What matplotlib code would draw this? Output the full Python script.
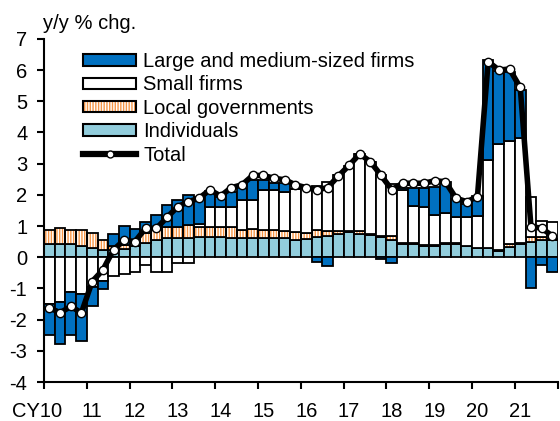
import matplotlib.pyplot as plt
from matplotlib.patches import Patch
from matplotlib.lines import Line2D
from matplotlib.legend_handler import HandlerTuple
import matplotlib.transforms as mtransforms
import numpy as np

plt.rcParams['font.family'] = ['Liberation Sans', 'DejaVu Sans']
plt.rcParams['axes.unicode_minus'] = False
plt.rcParams['hatch.linewidth'] = 1.0

# quarterly data, CY2010 Q1 .. CY2021 Q4 (y/y % chg. contributions)
year_labels = ['CY10', '11', '12', '13', '14', '15', '16', '17', '18', '19', '20', '21']

individuals = [0.42, 0.42, 0.42, 0.36, 0.29, 0.24, 0.22, 0.26, 0.35, 0.47, 0.56, 0.60,
               0.61, 0.62, 0.64, 0.64, 0.66, 0.62, 0.62, 0.62, 0.62, 0.62, 0.61, 0.56,
               0.57, 0.66, 0.68, 0.75, 0.80, 0.75, 0.72, 0.65, 0.55, 0.43, 0.43, 0.37,
               0.36, 0.43, 0.43, 0.36, 0.29, 0.29, 0.21, 0.33, 0.43, 0.50, 0.55, 0.56]
local_gov = [0.45, 0.52, 0.45, 0.52, 0.47, 0.32, 0.15, 0.14, 0.20, 0.30, 0.32, 0.38,
             0.37, 0.42, 0.34, 0.34, 0.30, 0.36, 0.26, 0.29, 0.26, 0.24, 0.24, 0.24,
             0.22, 0.20, 0.17, 0.10, 0.03, 0.10, 0.02, 0.03, 0.13, 0.03, 0.02, 0.02,
             0.02, 0.01, 0.01, 0.01, 0.01, 0.01, 0.01, 0.10, 0.01, 0.14, 0.10, 0.02]
small_firms = [-1.50, -1.42, -1.12, -1.18, -0.97, -0.75, -0.60, -0.53, -0.46, -0.25, -0.46, -0.46,
               -0.20, -0.20, 0.10, 0.64, 0.66, 0.64, 0.96, 0.93, 1.28, 1.30, 1.25, 1.40,
               1.42, 1.43, 1.57, 1.80, 2.10, 2.45, 2.30, 1.95, 1.66, 1.68, 1.20, 1.21,
               0.98, 0.97, 0.84, 0.91, 1.01, 2.83, 3.42, 3.31, 3.38, 1.30, 0.50, 0.55]
large_firms = [-0.98, -1.36, -1.38, -1.52, -0.59, -0.28, 0.38, 0.60, 0.35, 0.37, 0.48, 0.68,
               0.86, 0.96, 0.85, 0.50, 0.30, 0.48, 0.40, 0.62, 0.30, 0.21, 0.28, 0.00,
               0.00, -0.15, -0.27, 0.00, 0.00, 0.00, 0.00, -0.07, -0.18, 0.08, 0.57, 0.62,
               0.90, 1.00, 0.57, 0.41, 0.64, 3.20, 2.32, 2.19, 1.55, -0.99, -0.25, -0.46]
total = [-1.62, -1.78, -1.58, -1.78, -0.78, -0.41, 0.24, 0.55, 0.50, 0.93, 0.92, 1.28,
         1.62, 1.78, 1.89, 2.16, 1.96, 2.23, 2.32, 2.62, 2.62, 2.53, 2.48, 2.32,
         2.23, 2.16, 2.23, 2.60, 2.94, 3.31, 3.06, 2.62, 2.16, 2.37, 2.37, 2.37,
         2.45, 2.42, 1.89, 1.78, 1.94, 6.27, 6.00, 6.03, 5.44, 0.98, 0.93, 0.68]

c_large = '#0070C0'
c_ind = '#92CDDC'
c_lg = '#F79646'

fig = plt.figure(figsize=(5.6, 4.21), dpi=100)
ax = fig.add_axes([44 / 560, 1 - 382 / 421, (557.7 - 44) / 560, (382 - 38.8) / 421])

x = np.arange(len(total))
pos = np.zeros(len(x))
neg = np.zeros(len(x))

def stack(vals):
    v = np.array(vals)
    bottom = np.where(v >= 0, pos, neg)
    pos[:] = pos + np.clip(v, 0, None)
    neg[:] = neg + np.clip(v, None, 0)
    return v, bottom

edge = dict(edgecolor='black', linewidth=1.3, width=1.0)

v, b = stack(individuals)
ax.bar(x, v, bottom=b, color=c_ind, **edge)

v, b = stack(local_gov)
ax.bar(x, v, bottom=b, width=1.0, color='white', edgecolor=c_lg, hatch='||||||', linewidth=0)
ax.bar(x, v, bottom=b, fill=False, **edge)

v, b = stack(small_firms)
ax.bar(x, v, bottom=b, color='white', **edge)

v, b = stack(large_firms)
ax.bar(x, v, bottom=b, color=c_large, **edge)

ax.plot(x, total, color='black', linewidth=4, marker='o', markersize=6,
        markerfacecolor='white', markeredgecolor='black', markeredgewidth=1.0, zorder=5)

# axes styling
ax.set_xlim(-0.5, len(x) - 0.5)
ax.set_ylim(-4, 7)
ax.set_yticks(range(-4, 8))
ax.set_xticks(np.arange(-0.5, len(x), 4))
ax.set_xticklabels([])
for s in ['top', 'right']:
    ax.spines[s].set_visible(False)
for s in ['left', 'bottom']:
    ax.spines[s].set_linewidth(1.5)
ax.tick_params(axis='both', direction='out', length=5, width=1.5, labelsize=14.5)
ax.tick_params(axis='y', pad=7)

trans = mtransforms.blended_transform_factory(ax.transData, ax.transAxes)
for i, lab in enumerate(year_labels):
    if i == 0:
        ax.text(1.2, -0.057, lab, transform=trans, ha='right', va='top', fontsize=14.5)
    else:
        ax.text(4 * i, -0.057, lab, transform=trans, ha='center', va='top', fontsize=14.5)

fig.text(43 / 560, 1 - 29 / 421, 'y/y % chg.', ha='left', va='baseline', fontsize=14.5)

# legend
h_large = Patch(facecolor=c_large, edgecolor='black', linewidth=1.5)
h_small = Patch(facecolor='white', edgecolor='black', linewidth=1.5)
h_lg = (Patch(facecolor='white', edgecolor=c_lg, hatch='||||||', linewidth=0),
        Patch(facecolor='none', edgecolor='black', linewidth=1.5))
h_ind = Patch(facecolor=c_ind, edgecolor='black', linewidth=1.5)
h_tot = Line2D([0], [0], color='black', linewidth=4.5, marker='o', markersize=5,
               markerfacecolor='white', markeredgecolor='black')
ax.legend([h_large, h_small, h_lg, h_ind, h_tot],
          ['Large and medium-sized firms', 'Small firms', 'Local governments', 'Individuals', 'Total'],
          handler_map={tuple: HandlerTuple(ndivide=1)},
          loc='upper left', bbox_to_anchor=(83 / 560, 1 - 52 / 421), bbox_transform=fig.transFigure,
          frameon=False, fontsize=14.5, borderpad=0, borderaxespad=0,
          handlelength=2.65, handleheight=0.5, handletextpad=0.35, labelspacing=0.22)

fig.savefig('out.png', dpi=100)
